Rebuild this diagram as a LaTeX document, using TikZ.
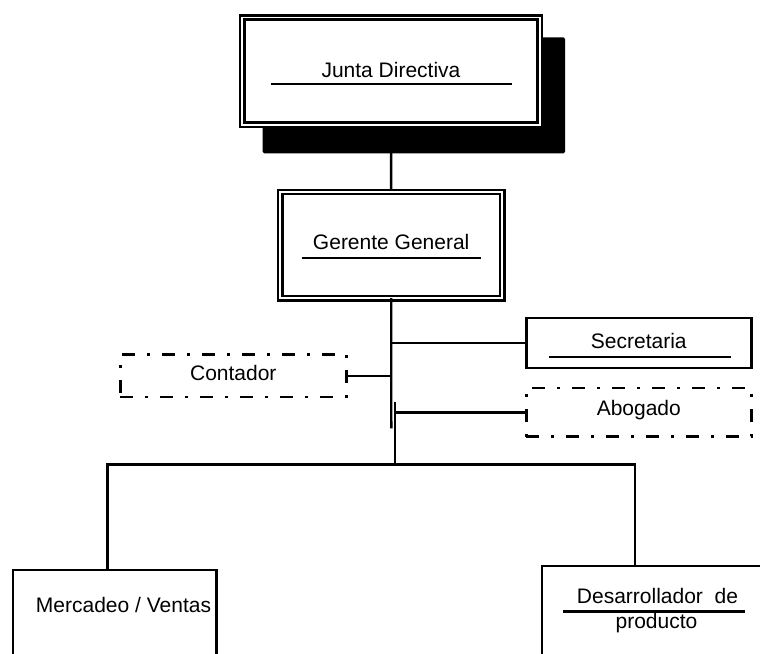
\documentclass[tikz,border=0pt]{standalone}
\usepackage{fontspec}
\setmainfont{Liberation Sans}
\usetikzlibrary{positioning, calc, backgrounds}

\begin{document}
\begin{tikzpicture}[
    x=1pt, y=-1pt,
    font=\fontsize{21}{25}\selectfont,
    % 連接線與底線
    conn/.style={line width=2.4pt},
    uline/.style={line width=2.4pt},
    % 方框樣式
    boxdouble/.style={draw, double, line width=2.4pt, double distance=1.8pt, fill=white, outer sep=0pt, inner sep=0pt},
    boxsingle/.style={draw, line width=2.4pt, outer sep=0pt, inner sep=0pt},
    boxdashdot/.style={draw, line width=2.4pt, dash pattern=on 13pt off 12pt on 3pt off 12pt, outer sep=0pt, inner sep=0pt}
]

% --- 0. 畫布範圍 ---
\useasboundingbox (0,0) rectangle (760,653);
\clip (0,0) rectangle (760,653);

% --- 1. Junta Directiva (雙框 + 陰影) ---
\node[boxdouble, minimum width=297.4pt, minimum height=107.2pt, text depth=2.8pt] (junta) at (391,71.1) {Junta Directiva};
\draw[uline] (270.7,84) -- (511.7,84); % 底線

% --- 2. Gerente General ---
\node[boxdouble, minimum width=222pt, minimum height=106.4pt, text depth=7pt] (gerente) at (391.2,245) {Gerente General};
\draw[uline] (301.7,258) -- (481,258);

% 陰影與上方連接線 (放在背景)
\begin{scope}[on background layer]
\draw[conn] (junta.south) -- (gerente.north);
\fill[rounded corners=1.5pt] (262.7,37.3) rectangle (565,153.3);
\end{scope}

% --- 3. 側邊方框 ---
\node[boxsingle, minimum width=225pt, minimum height=50pt, text depth=5pt] (secr) at (638.8,343) {Secretaria};
\draw[uline] (549.3,357) -- (731,357);

\node[boxdashdot, minimum width=225pt, minimum height=48.7pt, text depth=9pt] (abog) at (638.8,412.3) {Abogado};

\node[boxdashdot, minimum width=226pt, minimum height=42.3pt, text depth=5pt] (cont) at (233.3,375.8) {Contador};

% --- 4. 下方方框 (超出畫面) ---
\node[boxsingle, anchor=north west, minimum width=203.3pt, minimum height=120pt] (merc) at (13,569.7) {};
\node[anchor=base] (mercText) at (123.5,612.3) {Mercadeo / Ventas};

\node[boxsingle, anchor=north west, minimum width=260pt, minimum height=120pt] (desa) at (542,566) {};
\node[anchor=base] (desaText) at (657.5,603.3) {Desarrollador~~de};
\node[anchor=base] (prodText) at (656.5,628.3) {producto};
\draw[uline] (563.3,611.3) -- (745,611.3);

% --- 5. 連接線 ---
\coordinate (trunkEnd) at (391.3,428.3);
\coordinate (trunkB) at (394.7,401.7);
\coordinate (busMid) at (394.7,464.5);
\coordinate (busL) at (107.3,464.5);
\coordinate (busR) at (634.7,464.5);

\draw[conn] (gerente.south) -- (trunkEnd);
\draw[conn] (trunkB) -- (busMid);
\draw[conn] (busL |- merc.north) -- (busL) -- (busR) -- (busR |- desa.north);

\draw[conn] (trunkEnd |- secr.west) -- (secr.west);
\draw[conn] (cont.east) -- (cont.east -| trunkEnd);
\draw[conn] (trunkB |- abog.west) -- (abog.west);

\end{tikzpicture}
\end{document}
